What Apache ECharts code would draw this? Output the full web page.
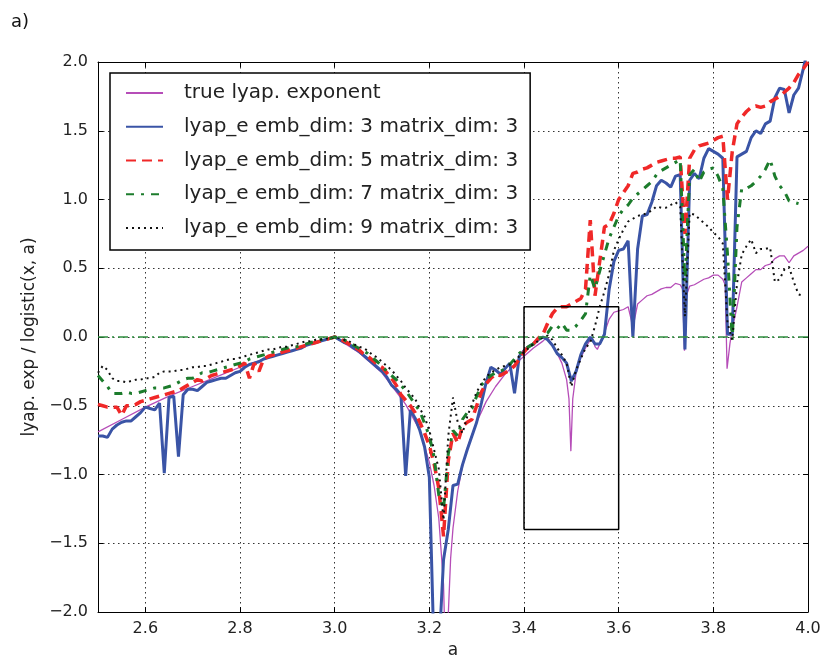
<!DOCTYPE html>
<html>
<head>
<meta charset="utf-8">
<script src="https://cdn.jsdelivr.net/npm/echarts@6/dist/echarts.min.js"></script>
<style>
html,body{margin:0;padding:0;background:#fff;}
#chart{width:827px;height:667px;}
</style>
</head>
<body>
<div id="chart"></div>
<script>
// ---- data ----
var aValues = [2.50,2.51,2.52,2.53,2.54,2.55,2.56,2.57,2.58,2.59,2.60,2.61,2.62,2.63,2.64,2.65,2.66,2.67,2.68,2.69,
2.70,2.71,2.72,2.73,2.74,2.75,2.76,2.77,2.78,2.79,2.80,2.81,2.82,2.83,2.84,2.85,2.86,2.87,2.88,2.89,
2.90,2.91,2.92,2.93,2.94,2.95,2.96,2.97,2.98,2.99,3.00,3.01,3.02,3.03,3.04,3.05,3.06,3.07,3.08,3.09,
3.10,3.11,3.12,3.13,3.14,3.15,3.16,3.17,3.18,3.19,3.20,3.21,3.22,3.23,3.24,3.25,3.26,3.27,3.28,3.29,
3.30,3.31,3.32,3.33,3.34,3.35,3.36,3.37,3.38,3.39,3.40,3.41,3.42,3.43,3.44,3.45,3.46,3.47,3.48,3.49,
3.50,3.51,3.52,3.53,3.54,3.55,3.56,3.57,3.58,3.59,3.60,3.61,3.62,3.63,3.64,3.65,3.66,3.67,3.68,3.69,
3.70,3.71,3.72,3.73,3.74,3.75,3.76,3.77,3.78,3.79,3.80,3.81,3.82,3.83,3.84,3.85,3.86,3.87,3.88,3.89,
3.90,3.91,3.92,3.93,3.94,3.95,3.96,3.97,3.98,3.99,4.00];

var embDim3 = [-0.72,-0.72,-0.73,-0.67,-0.64,-0.62,-0.61,-0.61,-0.58,-0.55,-0.51,-0.52,-0.53,-0.48,-0.99,-0.44,-0.43,-0.87,-0.42,-0.38,
-0.38,-0.39,-0.36,-0.33,-0.32,-0.31,-0.30,-0.30,-0.28,-0.26,-0.25,-0.22,-0.20,-0.19,-0.18,-0.16,-0.15,-0.14,-0.13,-0.12,
-0.11,-0.10,-0.09,-0.08,-0.06,-0.05,-0.04,-0.03,-0.02,-0.01,0.00,-0.02,-0.04,-0.05,-0.08,-0.10,-0.13,-0.16,-0.19,-0.22,
-0.25,-0.29,-0.35,-0.38,-0.42,-1.01,-0.53,-0.59,-0.68,-0.80,-1.02,-2.3,-2.3,-1.62,-1.40,-1.08,-1.07,-0.93,-0.82,-0.72,
-0.62,-0.48,-0.33,-0.22,-0.24,-0.27,-0.23,-0.19,-0.41,-0.14,-0.10,-0.07,-0.05,-0.02,0.00,-0.02,-0.06,-0.12,-0.15,-0.19,
-0.32,-0.25,-0.13,-0.05,0.00,-0.05,-0.05,0.02,0.35,0.55,0.63,0.64,0.70,0.00,0.64,0.88,0.89,0.98,1.10,1.14,
1.12,1.09,1.17,1.18,-0.09,1.14,1.19,1.15,1.30,1.37,1.35,1.33,1.30,0.02,0.02,1.31,1.33,1.35,1.45,1.50,
1.48,1.55,1.57,1.74,1.81,1.80,1.63,1.76,1.81,1.95,2.10];

var embDim5 = [-0.49,-0.50,-0.51,-0.51,-0.51,-0.57,-0.50,-0.50,-0.49,-0.47,-0.46,-0.45,-0.44,-0.43,-0.42,-0.41,-0.40,-0.39,-0.37,-0.35,
-0.33,-0.31,-0.32,-0.30,-0.28,-0.27,-0.26,-0.25,-0.24,-0.23,-0.21,-0.19,-0.30,-0.19,-0.25,-0.16,-0.14,-0.13,-0.12,-0.11,
-0.10,-0.09,-0.08,-0.07,-0.06,-0.05,-0.04,-0.03,-0.02,-0.01,0.00,-0.01,-0.03,-0.05,-0.07,-0.09,-0.12,-0.14,-0.17,-0.20,
-0.22,-0.26,-0.30,-0.35,-0.42,-0.46,-0.50,-0.55,-0.62,-0.70,-0.79,-0.92,-1.10,-1.45,-0.90,-0.70,-0.77,-0.65,-0.62,-0.60,
-0.50,-0.40,-0.34,-0.30,-0.27,-0.28,-0.26,-0.24,-0.21,-0.16,-0.11,-0.07,-0.05,-0.01,0.02,0.10,0.17,0.21,0.22,0.22,
0.24,0.26,0.28,0.35,0.85,0.30,0.55,0.80,0.82,0.90,1.00,1.05,1.10,1.19,1.20,1.22,1.23,1.25,1.27,1.28,
1.29,1.30,1.30,1.31,0.75,1.30,1.36,1.39,1.40,1.41,1.43,1.45,1.46,1.00,1.35,1.55,1.60,1.64,1.67,1.68,
1.67,1.68,1.71,1.73,1.75,1.78,1.81,1.85,1.91,1.95,2.00];

var embDim7 = [-0.28,-0.32,-0.36,-0.41,-0.41,-0.41,-0.40,-0.41,-0.41,-0.40,-0.39,-0.38,-0.37,-0.37,-0.37,-0.36,-0.35,-0.33,-0.31,-0.30,
-0.30,-0.28,-0.26,-0.26,-0.25,-0.24,-0.23,-0.22,-0.21,-0.20,-0.19,-0.18,-0.16,-0.15,-0.14,-0.13,-0.12,-0.11,-0.10,-0.09,
-0.08,-0.07,-0.07,-0.06,-0.05,-0.04,-0.03,-0.02,-0.01,-0.01,0.00,-0.01,-0.02,-0.04,-0.06,-0.08,-0.10,-0.12,-0.15,-0.18,
-0.21,-0.25,-0.28,-0.31,-0.35,-0.39,-0.44,-0.49,-0.54,-0.63,-0.72,-0.87,-1.15,-1.25,-0.85,-0.68,-0.72,-0.60,-0.55,-0.52,
-0.43,-0.35,-0.31,-0.28,-0.26,-0.25,-0.23,-0.20,-0.16,-0.12,-0.09,-0.07,-0.05,-0.02,0.01,0.03,0.08,0.06,0.10,0.05,
0.05,0.08,0.12,0.17,0.45,0.35,0.48,0.60,0.72,0.80,0.88,0.93,0.96,1.01,1.04,1.07,1.10,1.13,1.18,1.21,
1.23,1.25,1.27,1.29,0.40,1.18,1.22,1.13,1.20,1.22,1.23,1.17,1.08,0.60,-0.02,0.80,1.08,1.08,1.10,1.13,
1.17,1.22,1.29,1.17,1.10,1.06,0.99,0.98,0.97,null,null];

var embDim9 = [-0.26,-0.21,-0.24,-0.30,-0.32,-0.32,-0.33,-0.32,-0.31,-0.31,-0.30,-0.30,-0.29,-0.26,-0.25,-0.25,-0.25,-0.24,-0.24,-0.23,
-0.22,-0.22,-0.21,-0.21,-0.20,-0.19,-0.18,-0.17,-0.16,-0.16,-0.15,-0.14,-0.13,-0.12,-0.11,-0.10,-0.09,-0.09,-0.08,-0.07,
-0.07,-0.06,-0.05,-0.04,-0.03,-0.03,-0.02,-0.02,-0.01,-0.01,0.00,-0.01,-0.02,-0.03,-0.05,-0.07,-0.08,-0.10,-0.13,-0.15,
-0.18,-0.21,-0.24,-0.28,-0.32,-0.37,-0.41,-0.45,-0.52,-0.58,-0.68,-0.82,-0.96,-1.33,-0.72,-0.44,-0.62,-0.70,-0.58,-0.49,
-0.40,-0.34,-0.29,-0.26,-0.24,-0.22,-0.21,-0.20,-0.18,-0.14,-0.11,-0.08,-0.05,-0.03,0.00,0.01,-0.02,-0.08,-0.13,-0.19,
-0.36,-0.24,-0.16,-0.08,-0.04,0.08,0.22,0.33,0.46,0.63,0.71,0.78,0.84,0.86,0.88,0.89,0.90,0.92,0.95,0.94,
0.94,0.96,0.98,0.95,0.15,0.90,0.89,0.86,0.83,0.80,0.76,0.73,0.68,0.10,-0.02,0.39,0.60,0.66,0.71,0.61,
0.64,0.64,0.65,0.40,0.42,0.49,0.51,0.40,0.31,0.30,null];

var trueA = [2.50,2.55,2.60,2.65,2.70,2.75,2.80,2.85,2.90,2.95,3.00,3.05,3.10,3.15,3.18,3.20,3.21,3.22,3.23,3.236,
3.24,3.245,3.25,3.26,3.27,3.28,3.29,3.30,3.32,3.34,3.36,3.38,3.40,3.42,3.44,3.449,3.46,3.47,3.48,3.49,
3.495,3.499,3.503,3.51,3.52,3.53,3.54,3.544,3.55,3.555,3.56,3.565,3.57,3.58,3.59,3.60,3.61,3.62,3.627,3.63,
3.633,3.64,3.65,3.66,3.67,3.68,3.69,3.70,3.71,3.72,3.73,3.735,3.739,3.743,3.75,3.76,3.77,3.78,3.79,3.80,
3.81,3.82,3.825,3.829,3.835,3.84,3.85,3.86,3.87,3.88,3.89,3.90,3.91,3.92,3.93,3.94,3.95,3.96,3.97,3.98,
3.99,4.00];
var trueLyap = [-0.69,-0.60,-0.51,-0.43,-0.36,-0.29,-0.22,-0.16,-0.11,-0.05,0.00,-0.11,-0.26,-0.49,-0.68,-0.91,-1.08,-1.32,-1.80,-2.6,
-2.02,-1.61,-1.39,-1.12,-0.94,-0.81,-0.71,-0.62,-0.47,-0.36,-0.27,-0.20,-0.14,-0.08,-0.03,0.00,-0.06,-0.12,-0.19,-0.31,
-0.45,-0.83,-0.45,-0.26,-0.15,-0.08,-0.02,0.00,-0.07,-0.09,-0.05,-0.02,0.03,0.13,0.18,0.19,0.20,0.22,0.12,0.00,
0.12,0.24,0.27,0.30,0.31,0.33,0.35,0.36,0.36,0.39,0.38,0.35,-0.10,0.30,0.37,0.38,0.40,0.42,0.43,0.45,
0.45,0.42,0.38,-0.23,-0.05,0.06,0.22,0.40,0.43,0.46,0.49,0.49,0.52,0.53,0.57,0.59,0.59,0.54,0.59,0.61,
0.63,0.66];

var zeroA = [2.5, 4.0];
var zeroV = [0, 0];
var boxA = [3.4, 3.6, 3.6, 3.4, 3.4];
var boxV = [-1.4, -1.4, 0.22, 0.22, -1.4];

var xTicks = [2.6, 2.8, 3.0, 3.2, 3.4, 3.6, 3.8, 4.0];

var seriesNames = ['true lyap. exponent',
  'lyap_e emb_dim: 3 matrix_dim: 3',
  'lyap_e emb_dim: 5 matrix_dim: 3',
  'lyap_e emb_dim: 7 matrix_dim: 3',
  'lyap_e emb_dim: 9 matrix_dim: 3'];

function pairs(xs, ys) { return xs.map(function (x, i) { return [x, ys[i]]; }); }

var FONT = 'DejaVu Sans';
var chart = echarts.init(document.getElementById('chart'), null, {renderer: 'canvas'});

var gridLine = {show: true, lineStyle: {color: '#333', width: 1, type: [1.5, 3.5]}};

var option = {
  animation: false,
  backgroundColor: '#fff',
  title: {text: 'a)', left: 6, top: 8, textStyle: {fontFamily: FONT, fontSize: 18, fontWeight: 'normal', color: '#111'}},
  grid: {left: 98, right: 19, top: 62, bottom: 55},
  legend: {
    orient: 'vertical', left: 110, top: 73,
    data: seriesNames,
    backgroundColor: '#fff', borderColor: '#000', borderWidth: 1.5, borderRadius: 0,
    padding: [10, 12, 12, 15],
    itemWidth: 37, itemHeight: 14, itemGap: 13.75,
    itemStyle: {opacity: 0},
    textStyle: {fontFamily: FONT, fontSize: 20, color: '#222', lineHeight: 20, padding: [0, 0, 0, 16]}
  },
  xAxis: [{
    type: 'value', min: 2.5, max: 4.0, position: 'bottom',
    name: 'a', nameLocation: 'middle', nameGap: 30,
    nameTextStyle: {fontFamily: FONT, fontSize: 17, color: '#222'},
    axisLine: {show: true, onZero: false, lineStyle: {color: '#000', width: 1}},
    axisTick: {show: true, inside: true, length: 5, customValues: xTicks, lineStyle: {color: '#000'}},
    axisLabel: {show: true, customValues: xTicks, margin: 9, fontFamily: FONT, fontSize: 16, color: '#222',
      formatter: function (v) { return v.toFixed(1); }},
    splitLine: gridLine
  }, {
    type: 'value', min: 2.5, max: 4.0, position: 'top',
    axisLine: {show: true, onZero: false, lineStyle: {color: '#000', width: 1}},
    axisTick: {show: true, inside: true, length: 5, customValues: xTicks, lineStyle: {color: '#000'}},
    axisLabel: {show: false},
    splitLine: {show: false}
  }],
  yAxis: [{
    type: 'value', min: -2, max: 2, interval: 0.5, position: 'left',
    name: 'lyap. exp / logistic(x, a)', nameLocation: 'middle', nameGap: 56,
    nameTextStyle: {fontFamily: FONT, fontSize: 17, color: '#222'},
    axisLine: {show: true, onZero: false, lineStyle: {color: '#000', width: 1}},
    axisTick: {show: true, inside: true, length: 5, lineStyle: {color: '#000'}},
    axisLabel: {show: true, margin: 10, fontFamily: FONT, fontSize: 16, color: '#222',
      formatter: function (v) { return v.toFixed(1).replace('-', '\u2212'); }},
    splitLine: gridLine
  }, {
    type: 'value', min: -2, max: 2, interval: 0.5, position: 'right',
    axisLine: {show: true, onZero: false, lineStyle: {color: '#000', width: 1}},
    axisTick: {show: true, inside: true, length: 5, lineStyle: {color: '#000'}},
    axisLabel: {show: false},
    splitLine: {show: false}
  }],
  series: [
    {name: seriesNames[0], type: 'line', symbol: 'none', z: 2, clip: true,
      data: pairs(trueA, trueLyap), lineStyle: {color: '#b64db8', width: 1.3}, itemStyle: {color: '#b64db8'}},
    {name: seriesNames[1], type: 'line', symbol: 'none', z: 3, clip: true,
      data: pairs(aValues, embDim3), lineStyle: {color: '#3a54a6', width: 3}, itemStyle: {color: '#3a54a6'}},
    {name: seriesNames[2], type: 'line', symbol: 'none', z: 4, clip: true,
      data: pairs(aValues, embDim5), lineStyle: {color: '#f02828', width: 3.5, type: [10, 6]}, itemStyle: {color: '#f02828'}},
    {name: seriesNames[3], type: 'line', symbol: 'none', z: 5, clip: true,
      data: pairs(aValues, embDim7), lineStyle: {color: '#1c7c2c', width: 3, type: [8, 7, 3, 7]}, itemStyle: {color: '#1c7c2c'}},
    {name: seriesNames[4], type: 'line', symbol: 'none', z: 6, clip: true,
      data: pairs(aValues, embDim9), lineStyle: {color: '#111', width: 2, type: [2, 4]}, itemStyle: {color: '#111'}},
    {name: 'zero', type: 'line', symbol: 'none', z: 7, silent: true,
      data: pairs(zeroA, zeroV), lineStyle: {color: '#2f8f3f', width: 1.3, type: [10, 4, 2, 4]}},
    {name: 'box', type: 'line', symbol: 'none', z: 8, silent: true,
      data: pairs(boxA, boxV), lineStyle: {color: '#000', width: 1.5}}
  ]
};
chart.setOption(option);
</script>
</body>
</html>
